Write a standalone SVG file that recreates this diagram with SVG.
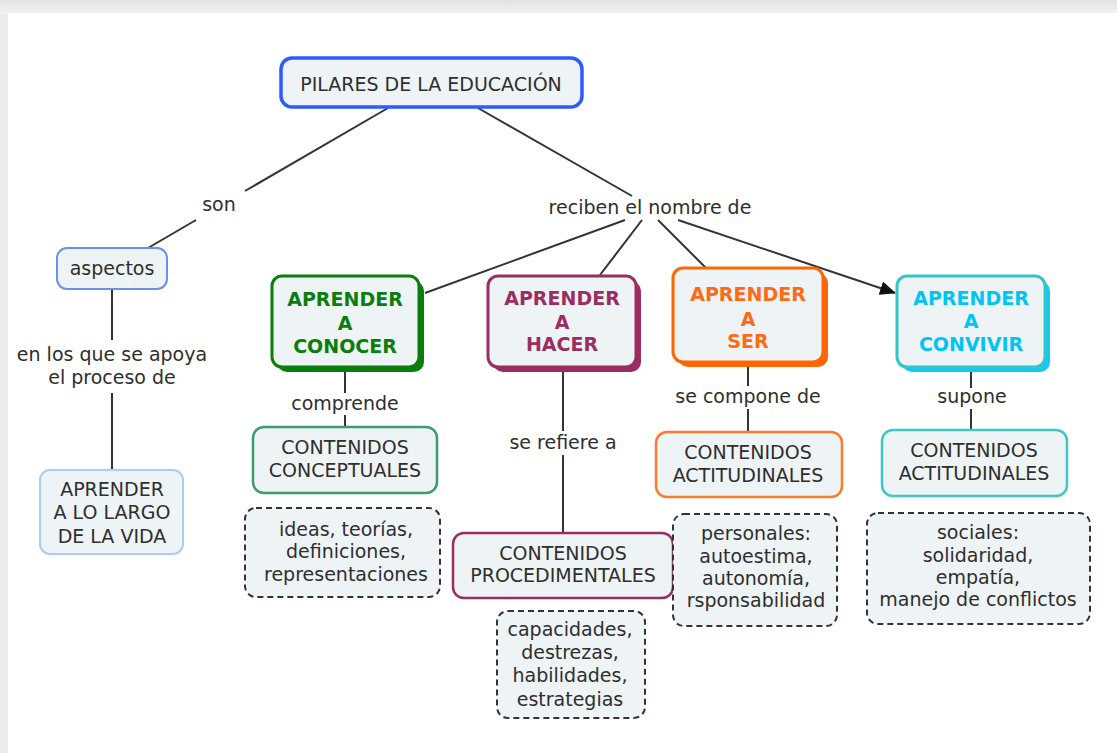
<svg xmlns="http://www.w3.org/2000/svg" width="1117" height="753" viewBox="0 0 1117 753">
<defs>
<linearGradient id="topband" x1="0" y1="0" x2="0" y2="1">
<stop offset="0" stop-color="#e2e2e2"/>
<stop offset="1" stop-color="#f2f2f2"/>
</linearGradient>
<marker id="arrow" viewBox="0 0 16 14" refX="15" refY="7" markerWidth="16" markerHeight="14" markerUnits="userSpaceOnUse" orient="auto">
<path d="M0,0 L16,7 L0,14 Z" fill="#111"/>
</marker>
<style>
text{font-family:"DejaVu Sans","Liberation Sans",sans-serif;font-size:19px;fill:#2e2e2e;text-anchor:middle}
.b{font-weight:bold}
.box{fill:#eef3f6}
.dash{fill:#eef3f6;stroke:#333;stroke-width:2;stroke-dasharray:6,4}
.ln{stroke:#333;stroke-width:2;fill:none}
</style>
</defs>
<rect x="0" y="0" width="1117" height="753" fill="#ececec"/>
<rect x="0" y="0" width="1117" height="14" fill="url(#topband)"/>
<rect x="8" y="13" width="1109" height="740" fill="#ffffff"/>

<g id="connectors">
<line class="ln" x1="388" y1="108" x2="245" y2="191"/>
<line class="ln" x1="196" y1="220" x2="148" y2="248"/>
<line class="ln" x1="478" y1="108" x2="632" y2="196"/>
<line class="ln" x1="625" y1="220" x2="425" y2="293"/>
<line class="ln" x1="642" y1="220" x2="600" y2="275"/>
<line class="ln" x1="658" y1="220" x2="706" y2="268"/>
<line class="ln" x1="678" y1="220" x2="895" y2="293" marker-end="url(#arrow)"/>
<line class="ln" x1="112" y1="290" x2="112" y2="340"/>
<line class="ln" x1="112" y1="393" x2="112" y2="470"/>
<line class="ln" x1="345" y1="372" x2="345" y2="393"/>
<line class="ln" x1="345" y1="415" x2="345" y2="427"/>
<line class="ln" x1="563" y1="372" x2="563" y2="431"/>
<line class="ln" x1="563" y1="455" x2="563" y2="533"/>
<line class="ln" x1="748" y1="367" x2="748" y2="386"/>
<line class="ln" x1="748" y1="409" x2="748" y2="432"/>
<line class="ln" x1="971" y1="372" x2="971" y2="388"/>
<line class="ln" x1="971" y1="409" x2="971" y2="430"/>
<text x="219" y="211">son</text>
<text x="650" y="214">reciben el nombre de</text>
<text x="112" y="361">en los que se apoya</text>
<text x="112" y="384">el proceso de</text>
<text x="345" y="410">comprende</text>
<text x="563" y="449">se refiere a</text>
<text x="748" y="403">se compone de</text>
<text x="972" y="403">supone</text>
</g>

<g id="pilares">
<rect class="box" x="281" y="58" width="301" height="49" rx="11" stroke="#2a5cff" stroke-width="3.5"/>
<text x="431" y="91">PILARES DE LA EDUCACIÓN</text>
</g>

<g id="aspectos">
<rect class="box" x="57" y="248" width="110" height="41" rx="10" stroke="#6b8ff0" stroke-width="2"/>
<text x="112" y="275">aspectos</text>
</g>

<g id="largo">
<rect class="box" x="40" y="470" width="143" height="84" rx="10" stroke="#a9cdf5" stroke-width="2"/>
<text x="112" y="496">APRENDER</text>
<text x="112" y="519">A LO LARGO</text>
<text x="112" y="543">DE LA VIDA</text>
</g>

<g id="conocer">
<rect x="277" y="281" width="147" height="91" rx="10" fill="#0a7d0a"/>
<rect class="box" x="272" y="276" width="147" height="91" rx="10" stroke="#0a7d0a" stroke-width="3"/>
<text class="b" x="345" y="306" style="fill:#0a7d0a">APRENDER</text>
<text class="b" x="345" y="330" style="fill:#0a7d0a">A</text>
<text class="b" x="345" y="353" style="fill:#0a7d0a">CONOCER</text>
</g>

<g id="hacer">
<rect x="493" y="281" width="148" height="91" rx="10" fill="#9b2d62"/>
<rect class="box" x="488" y="276" width="148" height="91" rx="10" stroke="#9b2d62" stroke-width="3"/>
<text class="b" x="562" y="305" style="fill:#9b2d62">APRENDER</text>
<text class="b" x="562" y="329" style="fill:#9b2d62">A</text>
<text class="b" x="562" y="351" style="fill:#9b2d62">HACER</text>
</g>

<g id="ser">
<rect x="678" y="273" width="150" height="94" rx="10" fill="#ff6600"/>
<rect class="box" x="673" y="268" width="150" height="94" rx="10" stroke="#ff6600" stroke-width="3"/>
<text class="b" x="748" y="301" style="fill:#ff6a13">APRENDER</text>
<text class="b" x="748" y="326" style="fill:#ff6a13">A</text>
<text class="b" x="748" y="348" style="fill:#ff6a13">SER</text>
</g>

<g id="convivir">
<rect x="902" y="281" width="148" height="91" rx="10" fill="#12c8f6"/>
<rect class="box" x="897" y="276" width="148" height="91" rx="10" stroke="#33c6c8" stroke-width="3"/>
<text class="b" x="971" y="305" style="fill:#00c4f4">APRENDER</text>
<text class="b" x="971" y="328" style="fill:#00c4f4">A</text>
<text class="b" x="971" y="351" style="fill:#00c4f4">CONVIVIR</text>
</g>

<g id="conceptuales">
<rect class="box" x="253" y="427" width="184" height="66" rx="11" stroke="#3c9c6c" stroke-width="2.5"/>
<text x="345" y="454">CONTENIDOS</text>
<text x="345" y="477">CONCEPTUALES</text>
</g>

<g id="ideas">
<rect class="dash" x="245" y="508" width="195" height="89" rx="11"/>
<text x="346" y="536">ideas, teorías,</text>
<text x="346" y="558">definiciones,</text>
<text x="346" y="581">representaciones</text>
</g>

<g id="procedimentales">
<rect class="box" x="453" y="533" width="220" height="65" rx="11" stroke="#9b2d62" stroke-width="2.5"/>
<text x="563" y="560">CONTENIDOS</text>
<text x="563" y="582">PROCEDIMENTALES</text>
</g>

<g id="capacidades">
<rect class="dash" x="497" y="611" width="148" height="107" rx="11"/>
<text x="570" y="636">capacidades,</text>
<text x="570" y="659">destrezas,</text>
<text x="570" y="682">habilidades,</text>
<text x="570" y="706">estrategias</text>
</g>

<g id="actitudinales-ser">
<rect class="box" x="656" y="432" width="186" height="65" rx="11" stroke="#ff7a2a" stroke-width="2.5"/>
<text x="748" y="459">CONTENIDOS</text>
<text x="748" y="482">ACTITUDINALES</text>
</g>

<g id="personales">
<rect class="dash" x="673" y="514" width="164" height="112" rx="11"/>
<text x="756" y="540">personales:</text>
<text x="756" y="563">autoestima,</text>
<text x="756" y="585">autonomía,</text>
<text x="756" y="607">rsponsabilidad</text>
</g>

<g id="actitudinales-convivir">
<rect class="box" x="882" y="430" width="185" height="66" rx="11" stroke="#3cc8c8" stroke-width="2.5"/>
<text x="974" y="457">CONTENIDOS</text>
<text x="974" y="480">ACTITUDINALES</text>
</g>

<g id="sociales">
<rect class="dash" x="867" y="513" width="223" height="111" rx="11"/>
<text x="978" y="539">sociales:</text>
<text x="978" y="562">solidaridad,</text>
<text x="978" y="584">empatía,</text>
<text x="978" y="606">manejo de conflictos</text>
</g>
</svg>
